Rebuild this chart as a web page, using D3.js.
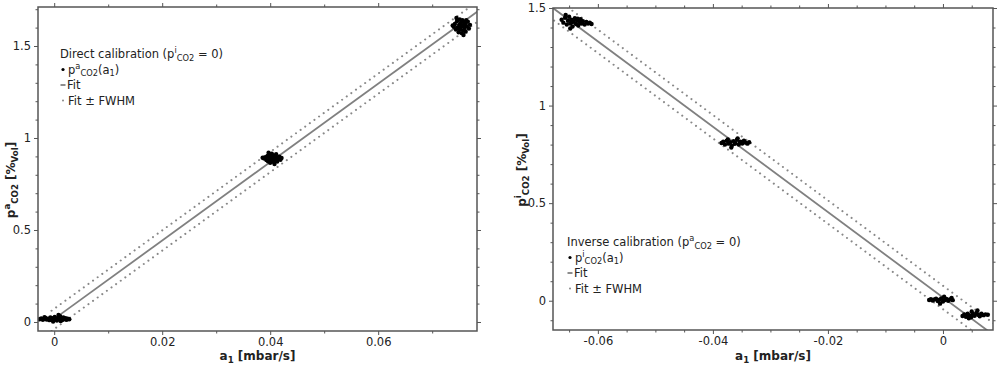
<!DOCTYPE html>
<html>
<head>
<meta charset="utf-8">
<script src="https://cdn.jsdelivr.net/npm/d3@7"></script>
<style>
  body { margin: 0; background: #fff; }
  text { font-family: "DejaVu Sans", Verdana, sans-serif; fill: #222; }
</style>
</head>
<body>
<script>
// ---------------- data ----------------
// direct calibration (left panel)
var directPoints = [
  // cluster near a1 = 0
  [-0.0027,0.015],[-0.0024,0.019],[-0.0021,0.012],[-0.0019,0.017],[-0.0016,0.022],[-0.0014,0.013],
  [-0.0011,0.018],[-0.0009,0.010],[-0.0007,0.024],[-0.0005,0.015],[-0.0003,0.020],[-0.0001,0.011],
  [0.0001,0.027],[0.0003,0.017],[0.0005,0.008],[0.0007,0.022],[0.0009,0.014],[0.0011,0.031],
  [0.0013,0.019],[0.0015,0.011],[0.0017,0.025],[0.0019,0.016],[0.0021,0.021],[0.0023,0.012],
  [0.0025,0.018],[0.0028,0.015],[0.0008,0.038],[-0.0002,0.003],[0.0012,0.005],[-0.0018,0.026],
  // cluster near 0.04
  [0.0389,0.888],[0.0391,0.895],[0.0393,0.880],[0.0395,0.902],[0.0396,0.873],[0.0398,0.891],
  [0.0399,0.910],[0.0400,0.865],[0.0401,0.884],[0.0402,0.898],[0.0403,0.915],[0.0404,0.876],
  [0.0405,0.890],[0.0406,0.905],[0.0407,0.868],[0.0408,0.886],[0.0409,0.900],[0.0410,0.879],
  [0.0411,0.912],[0.0412,0.893],[0.0413,0.872],[0.0415,0.887],[0.0417,0.899],[0.0419,0.882],
  [0.0397,0.920],[0.0408,0.858],[0.0386,0.893],[0.0421,0.891],[0.0401,0.902],[0.0410,0.895],
  // cluster near 0.075
  [0.0740,1.605],[0.0742,1.620],[0.0744,1.590],[0.0746,1.635],[0.0747,1.600],[0.0749,1.575],
  [0.0750,1.615],[0.0751,1.645],[0.0752,1.590],[0.0753,1.625],[0.0754,1.605],[0.0755,1.570],
  [0.0756,1.640],[0.0757,1.612],[0.0758,1.585],[0.0759,1.630],[0.0760,1.598],[0.0761,1.620],
  [0.0762,1.578],[0.0764,1.608],[0.0766,1.632],[0.0768,1.595],[0.0770,1.615],[0.0745,1.652],
  [0.0758,1.560],[0.0738,1.612],[0.0750,1.598],[0.0763,1.640]
];
var directFit = [[-0.0005, 0.006], [0.079, 1.700]];
var directFwhm = 0.055;
var directXMajor = [0, 0.02, 0.04, 0.06];
var directXMinor = [0.01, 0.03, 0.05, 0.07];
var directYMajor = [0, 0.5, 1, 1.5];
var directYMinor = [0.1, 0.2, 0.3, 0.4, 0.6, 0.7, 0.8, 0.9, 1.1, 1.2, 1.3, 1.4, 1.6, 1.7];

// inverse calibration (right panel)
var inversePoints = [
  // cluster near -0.064
  [-0.0663,1.440],[-0.0660,1.425],[-0.0657,1.450],[-0.0654,1.415],[-0.0652,1.435],[-0.0650,1.455],
  [-0.0648,1.420],[-0.0646,1.440],[-0.0644,1.405],[-0.0642,1.430],[-0.0640,1.448],[-0.0638,1.418],
  [-0.0636,1.436],[-0.0634,1.410],[-0.0632,1.428],[-0.0630,1.442],[-0.0628,1.420],[-0.0626,1.432],
  [-0.0623,1.415],[-0.0620,1.428],[-0.0617,1.420],[-0.0614,1.425],[-0.0611,1.418],[-0.0648,1.395],
  [-0.0656,1.465],[-0.0645,1.428],[-0.0635,1.445],
  // cluster near -0.036
  [-0.0385,0.808],[-0.0382,0.815],[-0.0379,0.800],[-0.0376,0.820],[-0.0373,0.805],[-0.0370,0.812],
  [-0.0367,0.795],[-0.0364,0.818],[-0.0361,0.808],[-0.0358,0.825],[-0.0355,0.800],[-0.0352,0.815],
  [-0.0349,0.806],[-0.0346,0.820],[-0.0343,0.810],[-0.0340,0.805],[-0.0337,0.812],[-0.0368,0.785],
  [-0.0357,0.832],[-0.0374,0.826],[-0.0362,0.804],[-0.0353,0.811],
  // cluster near 0
  [-0.0024,0.004],[-0.0021,0.008],[-0.0018,0.001],[-0.0015,0.006],[-0.0012,0.010],[-0.0009,-0.002],
  [-0.0006,0.005],[-0.0003,0.012],[0.0000,-0.004],[0.0003,0.003],[0.0006,0.009],[0.0009,0.000],
  [0.0012,0.006],[0.0015,0.014],[0.0017,0.003],[-0.0005,-0.015],[0.0002,0.020],
  // cluster near 0.006
  [0.0034,-0.078],[0.0037,-0.070],[0.0040,-0.082],[0.0043,-0.066],[0.0046,-0.075],[0.0049,-0.085],
  [0.0052,-0.068],[0.0055,-0.077],[0.0058,-0.062],[0.0061,-0.072],[0.0064,-0.080],[0.0067,-0.067],
  [0.0070,-0.074],[0.0074,-0.070],[0.0078,-0.072],[0.0050,-0.055],[0.0045,-0.090],[0.0060,-0.050]
];
var inverseFit = [[-0.070, 1.548], [0.009, -0.180]];
var inverseFwhm = 0.06;
var inverseXMajor = [-0.06, -0.04, -0.02, 0];
var inverseXMinor = [-0.065, -0.055, -0.05, -0.045, -0.035, -0.03, -0.025, -0.015, -0.01, -0.005, 0.005];
var inverseYMajor = [0, 0.5, 1, 1.5];
var inverseYMinor = [-0.1, 0.1, 0.2, 0.3, 0.4, 0.6, 0.7, 0.8, 0.9, 1.1, 1.2, 1.3, 1.4];

// ---------------- drawing ----------------
var W = 1000, H = 367;
var svg = d3.select("body").append("svg").attr("width", W).attr("height", H);

var fmt = function(d) { return String(+d.toFixed(3)); };

// text with super/subscripts: parts = [[text, "sup"|"sub"|null], ...]
function richText(sel, parts, size) {
  var shift = 0;
  parts.forEach(function(p) {
    var target = p[1] === "sup" ? -0.4 * size : (p[1] === "sub" ? 0.25 * size : 0);
    var t = sel.append("tspan").text(p[0]).attr("dy", target - shift);
    if (p[1]) t.style("font-size", (size * 0.72) + "px");
    shift = target;
  });
}

function drawPanel(cfg) {
  var x = d3.scaleLinear().domain(cfg.xDomain).range([cfg.left, cfg.right]);
  var y = d3.scaleLinear().domain(cfg.yDomain).range([cfg.bottom, cfg.top]);
  var g = svg.append("g");

  var clipId = "clip-" + cfg.id;
  svg.append("clipPath").attr("id", clipId).append("rect")
    .attr("x", cfg.left).attr("y", cfg.top)
    .attr("width", cfg.right - cfg.left).attr("height", cfg.bottom - cfg.top);

  // axes (ticks on all four sides, outward)
  function axisSet(axisFn, scale, major, minor, pos, labels) {
    var a = g.append("g").attr("transform", pos)
      .call(axisFn(scale).tickValues(major).tickSize(4).tickSizeOuter(0).tickPadding(3)
        .tickFormat(labels ? fmt : ""));
    a.select(".domain").remove();
    var b = g.append("g").attr("transform", pos)
      .call(axisFn(scale).tickValues(minor).tickSize(2.5).tickSizeOuter(0).tickFormat(""));
    b.select(".domain").remove();
    [a, b].forEach(function(s) {
      s.selectAll("line").attr("stroke", "#555").attr("stroke-width", 1);
      s.selectAll("text").style("font-size", "11.5px").attr("fill", "#222");
    });
  }
  axisSet(d3.axisBottom, x, cfg.xMajor, cfg.xMinor, "translate(0," + cfg.bottom + ")", true);
  axisSet(d3.axisTop, x, cfg.xMajor, cfg.xMinor, "translate(0," + cfg.top + ")", false);
  axisSet(d3.axisLeft, y, cfg.yMajor, cfg.yMinor, "translate(" + cfg.left + ",0)", true);
  axisSet(d3.axisRight, y, cfg.yMajor, cfg.yMinor, "translate(" + cfg.right + ",0)", false);

  var plot = g.append("g").attr("clip-path", "url(#" + clipId + ")");
  var line = d3.line().x(function(d) { return x(d[0]); }).y(function(d) { return y(d[1]); });

  // fit +- FWHM
  [cfg.fwhm, -cfg.fwhm].forEach(function(off) {
    plot.append("path")
      .attr("d", line(cfg.fit.map(function(p) { return [p[0], p[1] + off]; })))
      .attr("fill", "none").attr("stroke", "#888").attr("stroke-width", 2)
      .attr("stroke-linecap", "round").attr("stroke-dasharray", "0.1,5.6");
  });
  // fit
  plot.append("path").attr("d", line(cfg.fit))
    .attr("fill", "none").attr("stroke", "#808080").attr("stroke-width", 1.8);

  // points
  plot.selectAll("circle.pt").data(cfg.points).enter().append("circle")
    .attr("class", "pt")
    .attr("cx", function(d) { return x(d[0]); })
    .attr("cy", function(d) { return y(d[1]); })
    .attr("r", 2.2).attr("fill", "#000");

  // frame
  g.append("rect")
    .attr("x", cfg.left).attr("y", cfg.top)
    .attr("width", cfg.right - cfg.left).attr("height", cfg.bottom - cfg.top)
    .attr("fill", "none").attr("stroke", "#555").attr("stroke-width", 1.5);

  // axis titles
  var xt = g.append("text").attr("x", (cfg.left + cfg.right) / 2).attr("y", 360)
    .attr("text-anchor", "middle").style("font-size", "12px").style("font-weight", "bold");
  richText(xt, [["a", null], ["1", "sub"], [" [mbar/s]", null]], 12);

  var yt = g.append("text")
    .attr("transform", "translate(" + cfg.yTitleX + "," + cfg.yTitleY + ") rotate(-90)")
    .attr("text-anchor", "middle").style("font-size", "12px").style("font-weight", "bold");
  richText(yt, [["p", null], [cfg.ySup, "sup"], ["CO2", "sub"], [" [%", null], ["Vol", "sub"], ["]", null]], 12);

  // legend
  var lx = cfg.legendX, ly = cfg.legendY, step = 15.5, fs = 11.5;
  var t0 = g.append("text").attr("x", lx).attr("y", ly).style("font-size", fs + "px");
  richText(t0, cfg.legendTitle, fs);
  g.append("circle").attr("cx", lx + 3).attr("cy", ly + step - 4).attr("r", 1.6).attr("fill", "#000");
  var t1 = g.append("text").attr("x", lx + 8).attr("y", ly + step).style("font-size", fs + "px");
  richText(t1, cfg.legendPoints, fs);
  g.append("line").attr("x1", lx + 0.5).attr("x2", lx + 5.5)
    .attr("y1", ly + 2 * step - 4).attr("y2", ly + 2 * step - 4)
    .attr("stroke", "#808080").attr("stroke-width", 1.8);
  g.append("text").attr("x", lx + 7).attr("y", ly + 2 * step).style("font-size", fs + "px").text("Fit");
  g.append("circle").attr("cx", lx + 3).attr("cy", ly + 3 * step - 4).attr("r", 1).attr("fill", "#888");
  g.append("text").attr("x", lx + 8).attr("y", ly + 3 * step).style("font-size", fs + "px").text("Fit ± FWHM");
}

drawPanel({
  id: "direct",
  left: 38, right: 477, top: 7, bottom: 331,
  xDomain: [-0.003, 0.0783], yDomain: [-0.049, 1.712],
  xMajor: directXMajor, xMinor: directXMinor, yMajor: directYMajor, yMinor: directYMinor,
  points: directPoints, fit: directFit, fwhm: directFwhm,
  yTitleX: 15, yTitleY: 180, ySup: "a",
  legendX: 60, legendY: 58,
  legendTitle: [["Direct calibration (p", null], ["i", "sup"], ["CO2", "sub"], [" = 0)", null]],
  legendPoints: [["p", null], ["a", "sup"], ["CO2", "sub"], ["(a", null], ["1", "sub"], [")", null]]
});

drawPanel({
  id: "inverse",
  left: 553, right: 993, top: 8, bottom: 330,
  xDomain: [-0.0678, 0.0087], yDomain: [-0.15, 1.5],
  xMajor: inverseXMajor, xMinor: inverseXMinor, yMajor: inverseYMajor, yMinor: inverseYMinor,
  points: inversePoints, fit: inverseFit, fwhm: inverseFwhm,
  yTitleX: 526, yTitleY: 170, ySup: "i",
  legendX: 567, legendY: 246,
  legendTitle: [["Inverse calibration (p", null], ["a", "sup"], ["CO2", "sub"], [" = 0)", null]],
  legendPoints: [["p", null], ["i", "sup"], ["CO2", "sub"], ["(a", null], ["1", "sub"], [")", null]]
});
</script>
</body>
</html>
